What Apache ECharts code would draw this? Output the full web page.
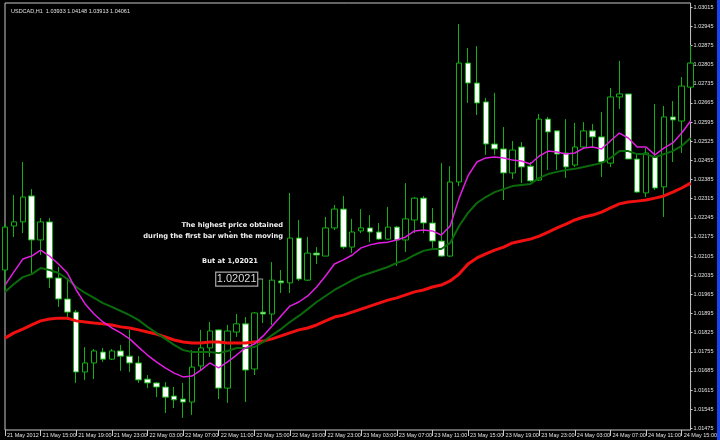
<!DOCTYPE html>
<html><head><meta charset="utf-8">
<script src="https://cdn.jsdelivr.net/npm/echarts@6/dist/echarts.min.js"></script>
<style>html,body{margin:0;padding:0;background:#000;}#c{width:720px;height:440px;}</style>
</head><body><div id="c"></div>
<script>
const categories = [
'21 May 11:00','21 May 12:00','21 May 13:00','21 May 14:00','21 May 15:00','21 May 16:00','21 May 17:00','21 May 18:00','21 May 19:00','21 May 20:00','21 May 21:00','21 May 22:00','21 May 23:00',
'22 May 00:00','22 May 01:00','22 May 02:00','22 May 03:00','22 May 04:00','22 May 05:00','22 May 06:00','22 May 07:00','22 May 08:00','22 May 09:00','22 May 10:00','22 May 11:00','22 May 12:00','22 May 13:00','22 May 14:00','22 May 15:00','22 May 16:00','22 May 17:00','22 May 18:00','22 May 19:00','22 May 20:00','22 May 21:00','22 May 22:00','22 May 23:00',
'23 May 00:00','23 May 01:00','23 May 02:00','23 May 03:00','23 May 04:00','23 May 05:00','23 May 06:00','23 May 07:00','23 May 08:00','23 May 09:00','23 May 10:00','23 May 11:00','23 May 12:00','23 May 13:00','23 May 14:00','23 May 15:00','23 May 16:00','23 May 17:00','23 May 18:00','23 May 19:00','23 May 20:00','23 May 21:00','23 May 22:00','23 May 23:00',
'24 May 00:00','24 May 01:00','24 May 02:00','24 May 03:00','24 May 04:00','24 May 05:00','24 May 06:00','24 May 07:00','24 May 08:00','24 May 09:00','24 May 10:00','24 May 11:00','24 May 12:00','24 May 13:00','24 May 14:00','24 May 15:00','24 May 16:00'];

const xTickLabels = ['21 May 2012','21 May 15:00','21 May 19:00','21 May 23:00','22 May 03:00','22 May 07:00','22 May 11:00','22 May 15:00','22 May 19:00','22 May 23:00',
'23 May 03:00','23 May 07:00','23 May 11:00','23 May 15:00','23 May 19:00','23 May 23:00','24 May 03:00','24 May 07:00','24 May 11:00','24 May 15:00'];

const yTicks = [1.01475,1.01545,1.01615,1.01685,1.01755,1.01825,1.01895,1.01965,1.02035,1.02105,1.02175,1.02245,1.02315,1.02385,1.02455,1.02525,1.02595,1.02665,1.02735,1.02805,1.02875,1.02945,1.03015];

const opens = [1.02054,1.02215,1.02230,1.02325,1.02164,1.02230,1.02025,1.01948,1.01900,1.01681,
1.01714,1.01754,1.01728,1.01758,1.01739,1.01714,1.01655,1.01641,1.01626,1.01593,
1.01582,1.01571,1.01703,1.01769,1.01835,1.01622,1.01827,1.01857,1.01692,1.01900,
1.01893,1.02014,1.02007,1.02171,1.02017,1.02116,1.02105,1.02208,1.02277,1.02138,
1.02197,1.02208,1.02193,1.02167,1.02211,1.02164,1.02237,1.02317,1.02226,1.02160,
1.02105,1.02376,1.02811,1.02738,1.02669,1.02515,1.02497,1.02409,1.02504,1.02434,
1.02383,1.02606,1.02563,1.02482,1.02438,1.02504,1.02563,1.02541,1.02445,1.02687,
1.02698,1.02460,1.02336,1.02467,1.02358,1.02614,1.02599,1.02723];

const closes = [1.02211,1.02230,1.02321,1.02164,1.02230,1.02025,1.01948,1.01900,1.01681,1.01714,
1.01758,1.01728,1.01758,1.01739,1.01714,1.01652,1.01641,1.01626,1.01589,1.01579,
1.01571,1.01699,1.01769,1.01831,1.01622,1.01831,1.01857,1.01688,1.01897,1.01893,
1.02017,1.02007,1.02171,1.02021,1.02116,1.02109,1.02208,1.02277,1.02138,1.02193,
1.02208,1.02193,1.02167,1.02211,1.02164,1.02241,1.02317,1.02226,1.02160,1.02105,
1.02376,1.02811,1.02738,1.02665,1.02515,1.02497,1.02409,1.02493,1.02431,1.02380,
1.02606,1.02559,1.02478,1.02431,1.02504,1.02563,1.02541,1.02449,1.02687,1.02698,
1.02460,1.02339,1.02482,1.02354,1.02614,1.02603,1.02727,1.02811];

const lows = [1.01981,1.02175,1.02189,1.02043,1.02109,1.01988,1.01919,1.01871,1.01641,1.01652,
1.01655,1.01718,1.01725,1.01685,1.01681,1.01641,1.01622,1.01589,1.01531,1.01549,
1.01513,1.01524,1.01688,1.01736,1.01582,1.01568,1.01809,1.01571,1.01670,1.01860,
1.01853,1.01970,1.01970,1.02014,1.02014,1.02076,1.02105,1.02200,1.02131,1.02116,
1.02189,1.02156,1.02164,1.02164,1.02069,1.02120,1.02189,1.02189,1.02135,1.02102,
1.02102,1.02361,1.02665,1.02621,1.02475,1.02475,1.02310,1.02387,1.02372,1.02376,
1.02380,1.02420,1.02420,1.02391,1.02431,1.02500,1.02504,1.02394,1.02431,1.02643,
1.02460,1.02336,1.02321,1.02347,1.02248,1.02449,1.02482,1.02720];

const highs = [1.02222,1.02328,1.02449,1.02350,1.02244,1.02244,1.02065,1.02025,1.01908,1.01772,
1.01765,1.01769,1.01765,1.01780,1.01835,1.01739,1.01670,1.01644,1.01644,1.01626,
1.01641,1.01761,1.01835,1.01864,1.01838,1.01853,1.01893,1.01882,1.01900,1.02021,
1.02083,1.02054,1.02336,1.02237,1.02175,1.02138,1.02248,1.02292,1.02325,1.02241,
1.02277,1.02255,1.02226,1.02285,1.02215,1.02372,1.02321,1.02325,1.02281,1.02445,
1.02434,1.02954,1.02866,1.02873,1.02683,1.02702,1.02577,1.02526,1.02522,1.02449,
1.02625,1.02614,1.02563,1.02606,1.02592,1.02595,1.02588,1.02632,1.02720,1.02819,
1.02698,1.02482,1.02500,1.02661,1.02654,1.02672,1.02760,1.02877];

const maFast = [1.01999,1.02047,1.02094,1.02105,1.02127,1.02105,1.02076,1.02043,1.01981,1.01930,
1.01893,1.01864,1.01842,1.01824,1.01802,1.01772,1.01743,1.01718,1.01696,1.01677,
1.01663,1.01666,1.01688,1.01714,1.01696,1.01718,1.01743,1.01769,1.01783,1.01813,
1.01849,1.01886,1.01922,1.01937,1.01959,1.01992,1.02032,1.02076,1.02091,1.02109,
1.02135,1.02146,1.02153,1.02156,1.02164,1.02175,1.02197,1.02200,1.02197,1.02182,
1.02215,1.02317,1.02398,1.02449,1.02464,1.02467,1.02464,1.02456,1.02453,1.02442,
1.02471,1.02489,1.02486,1.02478,1.02482,1.02500,1.02504,1.02497,1.02526,1.02555,
1.02537,1.02504,1.02504,1.02475,1.02500,1.02519,1.02555,1.02599];

const maMid = [1.01974,1.02003,1.02028,1.02039,1.02061,1.02054,1.02043,1.02021,1.01992,1.01970,
1.01952,1.01933,1.01919,1.01904,1.01889,1.01871,1.01846,1.01824,1.01802,1.01780,
1.01761,1.01754,1.01754,1.01754,1.01750,1.01758,1.01769,1.01769,1.01772,1.01791,
1.01816,1.01838,1.01864,1.01886,1.01911,1.01937,1.01959,1.01981,1.01999,1.02017,
1.02032,1.02043,1.02054,1.02065,1.02080,1.02091,1.02109,1.02124,1.02131,1.02131,
1.02153,1.02215,1.02263,1.02299,1.02321,1.02339,1.02350,1.02361,1.02365,1.02369,
1.02391,1.02405,1.02413,1.02420,1.02424,1.02431,1.02438,1.02445,1.02464,1.02489,
1.02489,1.02478,1.02478,1.02467,1.02478,1.02489,1.02508,1.02537];

const maSlow = [1.01805,1.01824,1.01838,1.01853,1.01868,1.01875,1.01878,1.01878,1.01868,1.01864,
1.01860,1.01857,1.01853,1.01846,1.01842,1.01835,1.01827,1.01820,1.01809,1.01798,
1.01791,1.01787,1.01787,1.01791,1.01791,1.01787,1.01787,1.01787,1.01791,1.01794,
1.01802,1.01813,1.01824,1.01835,1.01842,1.01853,1.01868,1.01882,1.01889,1.01900,
1.01911,1.01922,1.01933,1.01944,1.01952,1.01963,1.01974,1.01981,1.01992,1.01999,
1.02014,1.02039,1.02076,1.02098,1.02113,1.02127,1.02138,1.02153,1.02160,1.02167,
1.02178,1.02193,1.02208,1.02222,1.02237,1.02248,1.02255,1.02266,1.02281,1.02296,
1.02303,1.02306,1.02310,1.02317,1.02325,1.02339,1.02354,1.02372];

const chartTitle = 'USDCAD,H1  1.03933 1.04148 1.03913 1.04061';
const noteLines = ['The highest price obtained', 'during the first bar when the moving', 'But at 1,02021'];
const markedBar = 29;
const markedPrice = 1.02021;
const markedLabel = '1.02021';

const tickEvery = 4;
const candleData = opens.map((o, i) => [o, closes[i], lows[i], highs[i]]);
const smallFont = 'Liberation Sans';
const green = '#12b012';

const chart = echarts.init(document.getElementById('c'), null, {renderer: 'canvas'});
const option = {
  animation: false,
  backgroundColor: '#000',
  title: {text: chartTitle, left: 6, top: 3, textStyle: {fontSize: 5.5, color: '#e0e0e0', fontWeight: 'normal', fontFamily: smallFont}},
  grid: {left: 5, right: 26, top: 3, bottom: 10, show: true, borderColor: '#c8c8c8', borderWidth: 1, backgroundColor: '#000'},
  xAxis: {
    type: 'category', data: categories, boundaryGap: false,
    axisLine: {show: false},
    axisTick: {show: true, interval: (i) => i % tickEvery === 0, length: 6, lineStyle: {color: '#c8c8c8', width: 1}},
    axisLabel: {interval: (i) => i % tickEvery === 0, formatter: (v, i) => xTickLabels[Math.round(i / tickEvery)],
      align: 'left', fontSize: 5.5, color: '#e0e0e0', margin: 2, padding: [0, 0, 0, 2], fontFamily: smallFont},
    splitLine: {show: false}
  },
  yAxis: {
    type: 'value', position: 'right', min: 1.014688, max: 1.030307, scale: true,
    splitLine: {show: false}, axisLine: {show: false},
    axisTick: {show: true, customValues: yTicks, length: 2, lineStyle: {color: '#c8c8c8'}},
    axisLabel: {customValues: yTicks, formatter: (v) => v.toFixed(5), fontSize: 5.5, color: '#e0e0e0', margin: 3, fontFamily: smallFont}
  },
  series: [
    {type: 'candlestick', data: candleData, barWidth: 6, clip: true,
      itemStyle: {color: '#000', color0: '#fff', borderColor: green, borderColor0: green, borderWidth: 1}},
    {type: 'line', data: maSlow, showSymbol: false, lineStyle: {color: '#f01010', width: 3}, z: 3},
    {type: 'line', data: maMid, showSymbol: false, lineStyle: {color: '#0b6a0b', width: 2}, z: 4},
    {type: 'line', data: maFast, showSymbol: false, lineStyle: {color: '#e21ee2', width: 1.5}, z: 5}
  ]
};
chart.setOption(option);

const pt = chart.convertToPixel({gridIndex: 0}, [markedBar, markedPrice]);
const boxW = 42, boxH = 14, gap = 5.5;
const noteFont = 'bold 6.7px "DejaVu Sans"';
chart.setOption({
  graphic: [
    {type: 'text', right: 720 - 283, top: 222, style: {text: noteLines[0], fill: '#f0f0f0', font: noteFont}},
    {type: 'text', right: 720 - 283, top: 233, style: {text: noteLines[1], fill: '#f0f0f0', font: noteFont}},
    {type: 'rect', shape: {x: 229.5, y: 231, width: 1.2, height: 1.2}, style: {fill: '#f0f0f0'}},
    {type: 'text', right: 720 - 258, top: 258, style: {text: noteLines[2], fill: '#f0f0f0', font: noteFont}},
    {type: 'line', shape: {x1: pt[0] - gap, y1: pt[1], x2: pt[0], y2: pt[1]}, style: {stroke: '#a0a0a0', lineWidth: 1}, z: 10},
    {type: 'rect', shape: {x: pt[0] - gap - boxW, y: pt[1] - boxH / 2, width: boxW, height: boxH},
      style: {fill: '#000', stroke: '#a8a8a8', lineWidth: 1.2}, z: 10},
    {type: 'text', x: pt[0] - gap - boxW / 2, y: pt[1], z: 11,
      style: {text: markedLabel, fill: '#d8d8d8', font: '11px "Liberation Sans"', textAlign: 'center', textVerticalAlign: 'middle'}},
    {type: 'rect', shape: {x: 717, y: 0, width: 3, height: 440}, style: {fill: '#1844f0'}, z: 20}
  ]
});
</script></body></html>
